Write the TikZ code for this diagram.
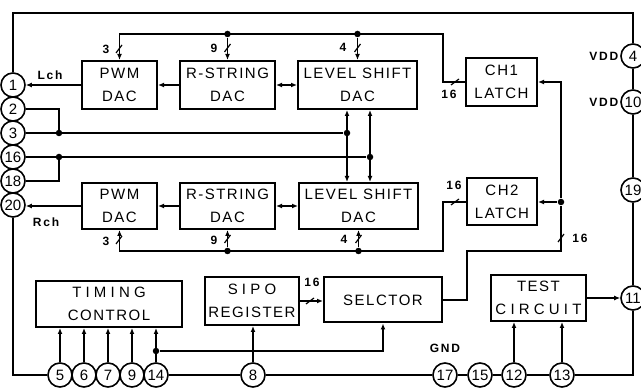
\documentclass[tikz,border=0pt]{standalone}
\usepackage{fontspec}
\setmainfont{Liberation Sans}
\newfontfamily\blockfont[LetterSpace=10]{Liberation Sans}
\newfontfamily\widefont[LetterSpace=28]{Liberation Sans}
\newfontfamily\tagfont[LetterSpace=15]{Liberation Sans}
\usetikzlibrary{arrows.meta}
\begin{document}
\begin{tikzpicture}[x=1pt, y=-1pt, line width=1.8pt,
  >={Latex[length=6pt,width=5pt]},
  block/.style={draw, line width=2pt, align=center, inner sep=0pt,
    font=\blockfont\fontsize{15}{23}\selectfont},
  pin/.style={circle, draw, line width=1.6pt, minimum size=24pt, inner sep=0pt,
    fill=white, font=\fontsize{15}{15}\selectfont},
  tag/.style={inner sep=1pt, font=\tagfont\bfseries\fontsize{12}{12}\selectfont},
  dot/.style={circle, fill, inner sep=0pt, minimum size=6.5pt}]
  \useasboundingbox (0,0) rectangle (641,390);

  % blocks
  \node[block, minimum width=75pt, minimum height=48pt] (pwm1) at (119.5,85) {PWM\\DAC};
  \node[block, minimum width=95pt, minimum height=48pt] (rs1) at (227.5,85) {R-STRING\\DAC};
  \node[block, minimum width=119pt, minimum height=48pt] (ls1) at (357.5,85) {LEVEL SHIFT\\DAC};
  \node[block, minimum width=71pt, minimum height=48pt] (ch1) at (501.5,82) {CH1\\LATCH};
  \node[block, minimum width=75pt, minimum height=46pt] (pwm2) at (119.5,206) {PWM\\DAC};
  \node[block, minimum width=95pt, minimum height=46pt] (rs2) at (227.5,206) {R-STRING\\DAC};
  \node[block, minimum width=119pt, minimum height=46pt] (ls2) at (358.5,206) {LEVEL SHIFT\\DAC};
  \node[block, minimum width=70pt, minimum height=47pt] (ch2) at (502,202) {CH2\\LATCH};
  \node[block, minimum width=146pt, minimum height=46pt] (tim) at (109,304) {{\widefont TIMING}\\CONTROL};
  \node[block, minimum width=94pt, minimum height=48pt] (sipo) at (252,301) {{\widefont SIPO}\\REGISTER};
  \node[block, minimum width=118pt, minimum height=45pt] (sel) at (383,300) {SELCTOR};
  \node[block, minimum width=95pt, minimum height=46pt] (test) at (538.5,298) {TEST\\{\widefont CIRCUIT}};

  % pins
  \node[pin] (p1) at (13,85) {1};
  \node[pin] (p2) at (13,109) {2};
  \node[pin] (p3) at (13,133) {3};
  \node[pin] (p16) at (13,157) {16};
  \node[pin] (p18) at (13,181) {18};
  \node[pin] (p20) at (13,205) {20};
  \node[pin] (p4) at (633,56) {4};
  \node[pin] (p10) at (633,102) {10};
  \node[pin] (p19) at (633,190) {19};
  \node[pin] (p11) at (633,298) {11};
  \node[pin] (p5) at (60,375) {5};
  \node[pin] (p6) at (84,375) {6};
  \node[pin] (p7) at (108,375) {7};
  \node[pin] (p9) at (132,375) {9};
  \node[pin] (p14) at (156,375) {14};
  \node[pin] (p8) at (253,375) {8};
  \node[pin] (p17) at (445,375) {17};
  \node[pin] (p15) at (480,375) {15};
  \node[pin] (p12) at (514,375) {12};
  \node[pin] (p13) at (562,375) {13};

  % frame
  \coordinate (tl) at (13,13);
  \coordinate (tr) at (633,13);
  \draw[line width=2pt] (p1) -- (tl) -- (tr) -- (p4);
  \draw[line width=2pt] (p4) -- (p10) -- (p19) -- (p11);
  \draw[line width=2pt] (p11) |- (p13);
  \draw[line width=2pt] (p20) |- (p5);
  \draw[line width=2pt] (p14) -- (p8) -- (p17) -- (p15) -- (p12) -- (p13);

  % channel L
  \draw[->] (pwm1.west) -- (pwm1.west -| p1.east);
  \node[tag] at (50,75) {Lch};
  \draw[->] (rs1.west) -- (pwm1.east);
  \draw[<->] (rs1.east) -- (ls1.west);
  \coordinate (busA) at (443,34);
  \draw[->] (ch1.west) -| (busA) -| (pwm1.north);
  \node[dot] (d9a) at (rs1.north |- busA) {};
  \node[dot] (d4a) at (ls1.north |- busA) {};
  \draw[->] (d9a) -- (rs1.north);
  \draw[->] (d4a) -- (ls1.north);

  % channel R
  \draw[->] (pwm2.west) -- (pwm2.west -| p20.east);
  \node[tag] at (46,222) {Rch};
  \draw[->] (rs2.west) -- (pwm2.east);
  \draw[<->] (rs2.east) -- (ls2.west);
  \coordinate (busB) at (443,251);
  \draw[->] (ch2.west) -| (busB) -| (pwm2.south);
  \node[dot] (d9b) at (rs2.south |- busB) {};
  \node[dot] (d4b) at (ls2.south |- busB) {};
  \draw[->] (d9b) -- (rs2.south);
  \draw[->] (d4b) -- (ls2.south);

  % bus widths
  \draw[line width=1.2pt] (119,49) ++(-3,4) -- ++(6,-8);
  \draw[line width=1.2pt] (227.5,48) ++(-3,4) -- ++(6,-8);
  \draw[line width=1.2pt] (357.5,48) ++(-3,4) -- ++(6,-8);
  \draw[line width=1.2pt] (455,82) ++(-4,3) -- ++(8,-6);
  \draw[line width=1.2pt] (119,240) ++(-3,4) -- ++(6,-8);
  \draw[line width=1.2pt] (227.5,239) ++(-3,4) -- ++(6,-8);
  \draw[line width=1.2pt] (358.5,239) ++(-3,4) -- ++(6,-8);
  \draw[line width=1.2pt] (455,202) ++(-4,3) -- ++(8,-6);
  \draw[line width=1.2pt] (561,238) ++(-3,4) -- ++(6,-8);
  \draw[line width=1.2pt] (310,301) ++(-4,3) -- ++(8,-6);
  \node[tag] at (106,49) {3};
  \node[tag] at (214,48) {9};
  \node[tag] at (343,47) {4};
  \node[tag] at (449,94) {16};
  \node[tag] at (106,241) {3};
  \node[tag] at (214,240) {9};
  \node[tag] at (344,239) {4};
  \node[tag] at (454,185) {16};
  \node[tag] at (580,238) {16};
  \node[tag] at (312,282) {16};

  % analog pins 2,3 and 16,18
  \coordinate (j3) at (59,133);
  \coordinate (j16) at (59,157);
  \node[dot] (m3) at (347,133) {};
  \node[dot] (m16) at (370,157) {};
  \draw (p2) -| (j3);
  \draw (p3) -- (m3);
  \draw (p18) -| (j16);
  \draw (p16) -- (m16);
  \node[dot] at (j3) {};
  \node[dot] at (j16) {};
  \draw[<->] (m3 |- ls1.south) -- (m3 |- ls2.north);
  \draw[<->] (m16 |- ls1.south) -- (m16 |- ls2.north);

  % latch feed
  \coordinate (sb) at (467,251);
  \coordinate (rb) at (561,251);
  \node[dot] (d16) at (rb |- ch2.east) {};
  \draw (sel.east) -| (sb) -- (rb) -- (d16);
  \draw[->] (d16) -- (ch2.east);
  \draw[->] (d16) |- (ch1.east);

  % control
  \draw[->] (sipo.east) -- (sipo.east -| sel.west);
  \draw[->] (p8) -- (p8 |- sipo.south);
  \draw[->] (p5) -- (p5 |- tim.south);
  \draw[->] (p6) -- (p6 |- tim.south);
  \draw[->] (p7) -- (p7 |- tim.south);
  \draw[->] (p9) -- (p9 |- tim.south);
  \draw[->] (p14) -- (p14 |- tim.south);
  \node[dot] (d14) at (156,351) {};
  \draw[->] (d14) -| (sel.south);
  \draw[->] (p12) -- (p12 |- test.south);
  \draw[->] (p13) -- (p13 |- test.south);
  \draw[->] (test.east) -- (test.east -| p11.west);

  % supply
  \node[tag, anchor=east] at (p4.west) {VDD};
  \node[tag, anchor=east] at (p10.west) {VDD};
  \node[tag] at (445,348) {GND};
\end{tikzpicture}
\end{document}
